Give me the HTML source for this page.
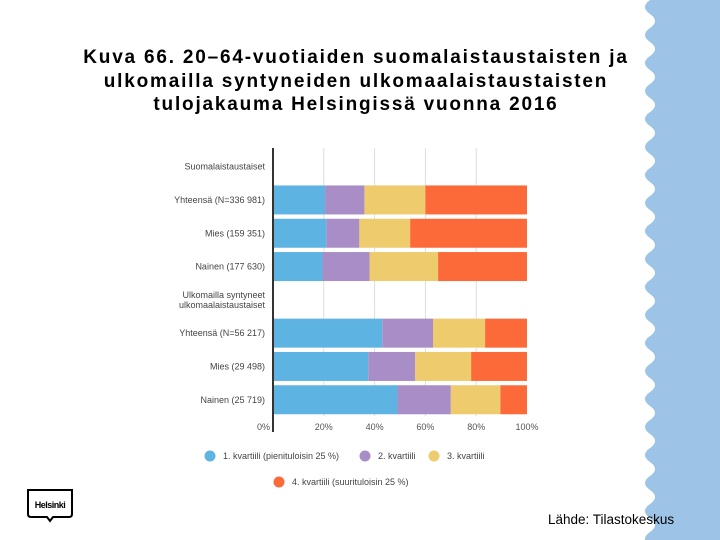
<!DOCTYPE html>
<html><head><meta charset="utf-8"><style>
body{margin:0;width:720px;height:540px;background:#fff;position:relative;overflow:hidden;font-family:"Liberation Sans",sans-serif}
#title{position:absolute;left:56px;top:46px;width:600px;text-align:center;font-weight:bold;font-size:19px;line-height:23.5px;letter-spacing:1.8px;color:#000}
#src{position:absolute;left:548px;top:512px;font-size:13.5px;color:#000}
</style></head><body>
<svg width="720" height="540" style="position:absolute;left:0;top:0" id="wave"></svg>
<div id="title">Kuva 66. 20–64-vuotiaiden suomalaistaustaisten ja<br>ulkomailla syntyneiden ulkomaalaistaustaisten<br>tulojakauma Helsingissä vuonna 2016</div>
<svg id="chart" width="720" height="540" style="position:absolute;left:0;top:0"></svg>
<svg width="60" height="40" style="position:absolute;left:25px;top:487px">
<path d="M3 3 H47 V27 Q47 30 44 30 H28 L25 34 L22 30 H6 Q3 30 3 27 Z" fill="#fff" stroke="#000" stroke-width="2"/>
<text x="25" y="21" text-anchor="middle" font-size="9" font-weight="bold" font-family="Liberation Sans, sans-serif" letter-spacing="-0.5">Helsinki</text>
</svg>
<div id="src">Lähde: Tilastokeskus</div>
<script>
const categories=["Suomalaistaustaiset","Yhteensä (N=336 981)","Mies (159 351)","Nainen (177 630)","Ulkomailla syntyneet|ulkomaalaistaustaiset","Yhteensä (N=56 217)","Mies (29 498)","Nainen (25 719)"];
const q1=[null,20.5,21,19.5,null,43,37.5,49];
const q2=[null,15.5,13,18.5,null,20,18.5,21];
const q3=[null,24,20,27,null,20.5,22,19.5];
const q4=[null,40,46,35,null,16.5,22,10.5];
const ticks=[0,20,40,60,80,100];
const seriesNames=["1. kvartiili (pienituloisin 25 %)","2. kvartiili","3. kvartiili","4. kvartiili (suurituloisin 25 %)"];
const colors=["#5db4e3","#a98dc6","#eecb6c","#fd6a39"];
const NS="http://www.w3.org/2000/svg";
(function(){
 const w=document.getElementById('wave');
 let d="M720 0 L650 0";
 for(let y=0;y<540;y+=28){d+=` Q640 ${y+7} 650 ${y+14} Q660 ${y+21} 650 ${y+28}`;}
 d+=" L720 540 Z";
 const p=document.createElementNS(NS,'path');p.setAttribute('d',d);p.setAttribute('fill','#9dc3e6');w.appendChild(p);
})();
const svg=document.getElementById('chart');
const x0=273,x1=527,y0=150,pitch=33.3,bh=29;
const xs=v=>x0+(x1-x0)*v/100;
const ys=i=>y0+pitch*i+pitch/2;
function el(t,a,txt){const e=document.createElementNS(NS,t);for(const k in a)e.setAttribute(k,a[k]);if(txt!=null)e.textContent=txt;svg.appendChild(e);return e;}
ticks.forEach(t=>{
 if(t>0&&t<100){const g=el('line',{x1:xs(t),x2:xs(t),y1:148,y2:416,stroke:'#ddd','stroke-width':1});
 
 }
 const tx=el('text',{x:t==0?xs(t)-3:xs(t),y:430,'text-anchor':t==0?'end':'middle','font-size':9,fill:'#555','font-family':'Liberation Sans, sans-serif'},t+'%');
 
 
});
const series=[q1,q2,q3,q4];
categories.forEach((c,i)=>{
 const lines=c.split('|');
 lines.forEach((ln,j)=>{
  const t=el('text',{x:265,y:ys(i)+3+(j-(lines.length-1)/2)*10,'text-anchor':'end','font-size':9,fill:'#444','font-family':'Liberation Sans, sans-serif'},ln);
  
  
 });
 if(q1[i]==null)return;
 let acc=0;
 series.forEach((s,k)=>{
  const r=el('rect',{x:xs(acc),y:ys(i)-bh/2,width:xs(acc+s[i])-xs(acc),height:bh,fill:colors[k]});
  
  
  acc+=s[i];
 });
});
const ax=el('line',{x1:x0,x2:x0,y1:148,y2:432,stroke:'#333','stroke-width':2});


const leg=[[210,456],[365,456],[434,456],[279,482]];
seriesNames.forEach((n,k)=>{
 const c=el('circle',{cx:leg[k][0],cy:leg[k][1],r:5.5,fill:colors[k]});
 
 
 const t=el('text',{x:leg[k][0]+13,y:leg[k][1]+3,'font-size':9,fill:'#444','font-family':'Liberation Sans, sans-serif'},n);
 
 
});
</script>
</body></html>
